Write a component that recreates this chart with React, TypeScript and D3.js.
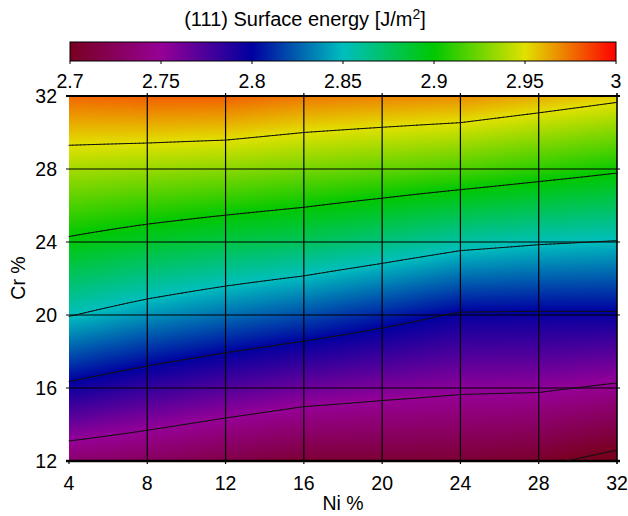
import React, { useMemo } from 'react';
import * as d3 from 'd3';

// grid nodes of the map
const niValues = [4, 8, 12, 16, 20, 24, 28, 32];
const crValues = [12, 16, 20, 24, 28, 32];

// (111) surface energy in J/m^2, one row per Cr level, columns follow niValues
const energyCr12 = [2.733, 2.726, 2.717, 2.709, 2.709, 2.709, 2.7045, 2.692];
const energyCr16 = [2.795, 2.783, 2.773, 2.764, 2.7585, 2.754, 2.753, 2.7465];
const energyCr20 = [2.851, 2.839, 2.829, 2.82, 2.809, 2.7977, 2.7972, 2.7975];
const energyCr24 = [2.897, 2.889, 2.882, 2.876, 2.867, 2.857, 2.852, 2.849];
const energyCr28 = [2.937, 2.934, 2.931, 2.9265, 2.922, 2.917, 2.91, 2.903];
const energyCr32 = [2.977, 2.979, 2.979, 2.9735, 2.971, 2.969, 2.962, 2.9545];
const energyRows = [energyCr12, energyCr16, energyCr20, energyCr24, energyCr28, energyCr32];

const contourLevels = [2.7, 2.75, 2.8, 2.85, 2.9, 2.95];
const colorTicks = [2.7, 2.75, 2.8, 2.85, 2.9, 2.95, 3];
const colorStops = ['#780020', '#960096', '#0000a0', '#00bebe', '#00c800', '#e1e100', '#ff0000'];
const xTicks = [4, 8, 12, 16, 20, 24, 28, 32];
const yTicks = [12, 16, 20, 24, 28, 32];

const W = 628;
const H = 516;
const plot = { left: 69, right: 617, top: 96, bottom: 461 };
const bar = { left: 70, right: 616, top: 42, bottom: 61 };
const FONT = '"Liberation Sans", Arial, sans-serif';

const cellIndex = (arr: number[], v: number) =>
  Math.max(0, Math.min(arr.length - 2, d3.bisectRight(arr, v) - 1));

// bilinear lookup between the grid nodes
function energyAt(ni: number, cr: number) {
  const i = cellIndex(niValues, ni);
  const j = cellIndex(crValues, cr);
  const tx = (ni - niValues[i]) / (niValues[i + 1] - niValues[i]);
  const ty = (cr - crValues[j]) / (crValues[j + 1] - crValues[j]);
  const r0 = energyRows[j];
  const r1 = energyRows[j + 1];
  const a = r0[i] + (r0[i + 1] - r0[i]) * tx;
  const b = r1[i] + (r1[i + 1] - r1[i]) * tx;
  return a + (b - a) * ty;
}

export default function App() {
  const x = d3.scaleLinear().domain([4, 32]).range([plot.left, plot.right]);
  const y = d3.scaleLinear().domain([12, 32]).range([plot.bottom, plot.top]);
  const cbar = d3.scaleLinear().domain([2.7, 3]).range([bar.left, bar.right]);
  const color = d3.scaleLinear<string>().domain(colorTicks).range(colorStops).clamp(true);

  // raster of the map
  const heatmap = useMemo(() => {
    const w = plot.right - plot.left;
    const h = plot.bottom - plot.top;
    const canvas = document.createElement('canvas');
    canvas.width = w;
    canvas.height = h;
    const ctx = canvas.getContext('2d');
    if (!ctx) return '';
    const img = ctx.createImageData(w, h);
    const steps = 1000;
    const lut = d3.range(steps + 1).map(k => d3.rgb(color(2.7 + (k / steps) * 0.3)));
    for (let py = 0; py < h; py++) {
      const cr = y.invert(plot.top + py + 0.5);
      for (let px = 0; px < w; px++) {
        const ni = x.invert(plot.left + px + 0.5);
        const v = energyAt(ni, cr);
        const k = Math.max(0, Math.min(steps, Math.round(((v - 2.7) / 0.3) * steps)));
        const c = lut[k];
        const o = (py * w + px) * 4;
        img.data[o] = c.r;
        img.data[o + 1] = c.g;
        img.data[o + 2] = c.b;
        img.data[o + 3] = 255;
      }
    }
    ctx.putImageData(img, 0, 0);
    return canvas.toDataURL();
  }, []);

  // isolines with marching squares on a fine grid
  const contours = useMemo(() => {
    const fineNi = d3.range(4, 32.0001, 0.2);
    const fineCr = d3.range(12, 32.0001, 0.2);
    const fine = fineCr.map(cr => fineNi.map(ni => energyAt(ni, cr)));
    return contourLevels.map(level => {
      let d = '';
      for (let j = 0; j < fineCr.length - 1; j++) {
        for (let i = 0; i < fineNi.length - 1; i++) {
          const corners = [[i, j], [i + 1, j], [i + 1, j + 1], [i, j + 1]];
          const pts: number[][] = [];
          for (let e = 0; e < 4; e++) {
            const [i0, j0] = corners[e];
            const [i1, j1] = corners[(e + 1) % 4];
            const v0 = fine[j0][i0];
            const v1 = fine[j1][i1];
            if ((v0 < level) !== (v1 < level)) {
              const t = (level - v0) / (v1 - v0);
              const ni = fineNi[i0] + (fineNi[i1] - fineNi[i0]) * t;
              const cr = fineCr[j0] + (fineCr[j1] - fineCr[j0]) * t;
              pts.push([x(ni), y(cr)]);
            }
          }
          const seg = (a: number[], b: number[]) =>
            `M${a[0].toFixed(2)},${a[1].toFixed(2)}L${b[0].toFixed(2)},${b[1].toFixed(2)}`;
          if (pts.length >= 2) d += seg(pts[0], pts[1]);
          if (pts.length === 4) d += seg(pts[2], pts[3]);
        }
      }
      return { level, d };
    });
  }, []);

  return (
    <svg
      width={W}
      height={H}
      style={{ position: 'absolute', left: 0, top: 0, background: '#fff' }}
      fontFamily={FONT}
    >
      <defs>
        <linearGradient id="cbarGrad" x1="0" x2="1" y1="0" y2="0">
          {colorTicks.map((t, i) => (
            <stop key={t} offset={(t - 2.7) / 0.3} stopColor={colorStops[i]} />
          ))}
        </linearGradient>
      </defs>

      {/* title */}
      <text x={305} y={26} textAnchor="middle" fontSize={20}>
        (111) Surface energy [J/m
        <tspan dy={-7} fontSize={14}>2</tspan>
        <tspan dy={7}>]</tspan>
      </text>

      {/* colour bar */}
      <rect
        x={bar.left}
        y={bar.top}
        width={bar.right - bar.left}
        height={bar.bottom - bar.top}
        fill="url(#cbarGrad)"
        stroke="#000"
        strokeWidth={1}
      />
      {colorTicks.map(t => (
        <g key={t}>
          <line x1={cbar(t)} x2={cbar(t)} y1={bar.bottom} y2={bar.bottom + 3} stroke="#000" />
          <text x={cbar(t)} y={88} textAnchor="middle" fontSize={19.5}>
            {t}
          </text>
        </g>
      ))}

      {/* map */}
      <image
        href={heatmap}
        x={plot.left}
        y={plot.top}
        width={plot.right - plot.left}
        height={plot.bottom - plot.top}
        preserveAspectRatio="none"
      />

      {/* grid */}
      {yTicks.map(t => (
        <line
          key={'h' + t}
          x1={plot.left - 3}
          x2={plot.right + 3}
          y1={y(t)}
          y2={y(t)}
          stroke="#000"
          strokeWidth={t === 12 ? 2.5 : t === 32 ? 1.8 : 1.2}
        />
      ))}
      {xTicks.map(t => (
        <line
          key={'v' + t}
          x1={x(t)}
          x2={x(t)}
          y1={t === 4 ? plot.bottom : plot.top - 3}
          y2={plot.bottom + 3}
          stroke="#000"
          strokeWidth={t === 32 ? 1.6 : 1.2}
        />
      ))}

      {/* contour lines */}
      {contours.map(c => (
        <path key={c.level} d={c.d} fill="none" stroke="#111" strokeWidth={1} strokeLinecap="round" />
      ))}

      {/* axis labels */}
      {yTicks.map(t => (
        <text key={'yl' + t} x={57} y={y(t)} dy="0.36em" textAnchor="end" fontSize={19.5}>
          {t}
        </text>
      ))}
      {xTicks.map(t => (
        <text key={'xl' + t} x={x(t)} y={490} textAnchor="middle" fontSize={19.5}>
          {t}
        </text>
      ))}
      <text x={343} y={510} textAnchor="middle" fontSize={19.5}>
        Ni %
      </text>
      <text transform="translate(25,278) rotate(-90)" textAnchor="middle" fontSize={19.5}>
        Cr %
      </text>
    </svg>
  );
}
